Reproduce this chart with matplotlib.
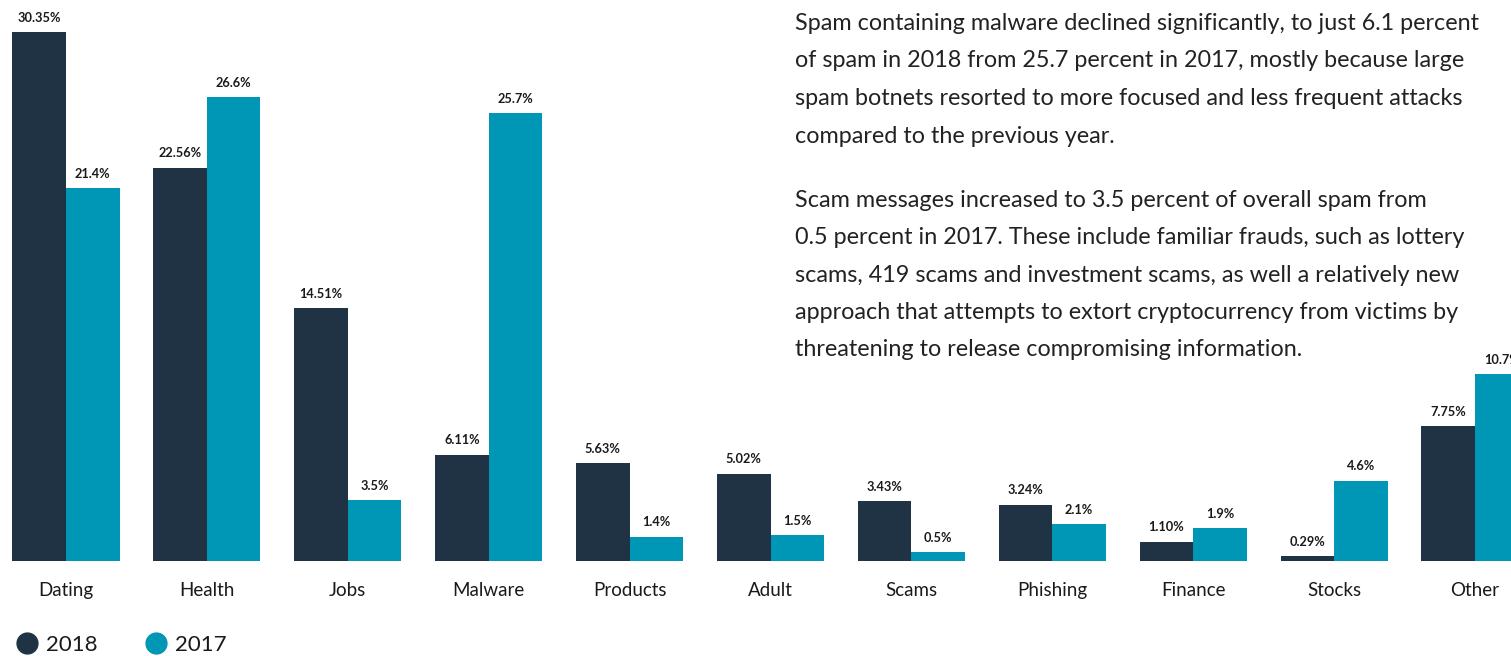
import matplotlib
matplotlib.use("Agg")
import matplotlib.pyplot as plt
import numpy as np
from matplotlib.lines import Line2D

# data
categories = ["Dating", "Health", "Jobs", "Malware", "Products", "Adult",
              "Scams", "Phishing", "Finance", "Stocks", "Other"]
share_2018 = [30.35, 22.56, 14.51, 6.11, 5.63, 5.02, 3.43, 3.24, 1.10, 0.29, 7.75]
share_2017 = [21.4, 26.6, 3.5, 25.7, 1.4, 1.5, 0.5, 2.1, 1.9, 4.6, 10.7]
series_names = ["2018", "2017"]

para1 = ["Spam containing malware declined significantly, to just 6.1 percent",
         "of spam in 2018 from 25.7 percent in 2017, mostly because large",
         "spam botnets resorted to more focused and less frequent attacks",
         "compared to the previous year."]
para2 = ["Scam messages increased to 3.5 percent of overall spam from",
         "0.5 percent in 2017. These include familiar frauds, such as lottery",
         "scams, 419 scams and investment scams, as well a relatively new",
         "approach that attempts to extort cryptocurrency from victims by",
         "threatening to release compromising information."]

DARK = "#1f3344"
TEAL = "#0096b5"
FONT = ["Lato", "DejaVu Sans"]

W, H = 1511, 656
fig = plt.figure(figsize=(W / 100, H / 100), dpi=100)
ax = fig.add_axes([0, (H - 561) / H, 1, 561 / H])

x = np.arange(len(categories))
w = 0.38
b1 = ax.bar(x - w / 2, share_2018, w, color=DARK)
b2 = ax.bar(x + w / 2, share_2017, w, color=TEAL)

for bars, vals, fmt in [(b1, share_2018, "{:.2f}%"), (b2, share_2017, "{:.1f}%")]:
    for rect, v in zip(bars, vals):
        ax.annotate(fmt.format(v), (rect.get_x() + rect.get_width() / 2, v),
                    xytext=(0, 6), textcoords="offset points",
                    ha="center", va="bottom", fontsize=9.2,
                    fontweight="bold", family=FONT, color="#1a1a1a",
                    annotation_clip=False)

ax.set_xlim(-66 / 140.9, (W - 66) / 140.9)
ax.set_ylim(0, 561 / 17.43)
ax.set_xticks(x)
ax.set_xticklabels(categories, fontsize=13.5, family=FONT, color="#1a1a1a")
ax.tick_params(axis="x", length=0, pad=15)
ax.set_yticks([])
for s in ax.spines.values():
    s.set_visible(False)

# paragraph text, top right
for i, line in enumerate(para1):
    fig.text(795 / W, 1 - (23 + i * 37.7) / H, line, fontsize=16.8,
             family=FONT, color="#222222", va="center", ha="left")
for i, line in enumerate(para2):
    fig.text(795 / W, 1 - (200 + i * 37.5) / H, line, fontsize=16.8,
             family=FONT, color="#222222", va="center", ha="left")

# legend with circle markers
handles = [Line2D([], [], marker="o", ls="", color=c, markersize=15)
           for c in (DARK, TEAL)]
leg = fig.legend(handles, series_names, loc="center left",
                 bbox_to_anchor=(10 / W, 1 - 645 / H), ncol=2, frameon=False,
                 handletextpad=0.1, columnspacing=1.9, handlelength=1.5,
                 borderaxespad=0, borderpad=0,
                 prop={"family": FONT, "size": 16})
for t in leg.get_texts():
    t.set_color("#1a1a1a")

fig.savefig("out.png", dpi=100)
plt.close(fig)
